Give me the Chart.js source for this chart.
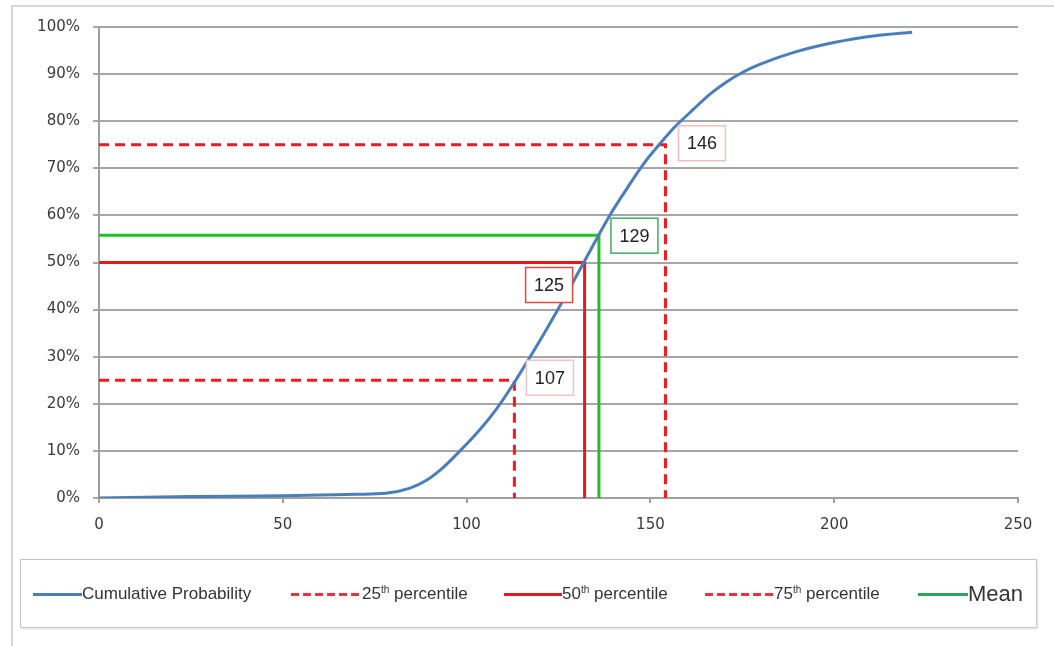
<!DOCTYPE html>
<html>
<head>
<meta charset="utf-8">
<script src="https://cdn.jsdelivr.net/npm/chart.js@4.4.1/dist/chart.umd.min.js"></script>
<style>
  html, body { margin: 0; padding: 0; background: #fff; overflow: hidden; }
  #wrap { position: relative; width: 1054px; height: 646px; }
  #frame { position: absolute; left: 11px; top: 5px; width: 1060px; height: 660px; border: 2px solid #d6d6d6; box-sizing: border-box; }
  #c { position: absolute; left: 0; top: 0; }
  #legend { position: absolute; left: 20px; top: 559px; width: 1017px; height: 69px; border: 1px solid #c6c6c6; box-sizing: border-box; box-shadow: 1px 1px 2px rgba(0,0,0,0.12); background: #fff; }
  .sw { position: absolute; top: 33px; height: 3px; }
  .tx { position: absolute; top: 24px; font-family: "Liberation Sans", Arial, sans-serif; font-size: 17px; color: #333; white-space: nowrap; line-height: 20px; }
  .tx sup { font-size: 10px; vertical-align: 6px; line-height: 0; }
  .dash { background: repeating-linear-gradient(90deg, #e8323c 0 8px, transparent 8px 12px); }
</style>
</head>
<body>
<div id="wrap">
  <div id="frame"></div>
  <canvas id="c" width="1054" height="646"></canvas>
  <div id="legend">
    <div class="sw" style="left:12px;width:49px;background:#4a7ebb;"></div>
    <div class="tx" style="left:61px;">Cumulative Probability</div>
    <div class="sw dash" style="left:270px;width:70px;"></div>
    <div class="tx" style="left:341px;">25<sup>th</sup> percentile</div>
    <div class="sw" style="left:483px;width:58px;background:#e51b1b;"></div>
    <div class="tx" style="left:541px;">50<sup>th</sup> percentile</div>
    <div class="sw dash" style="left:684px;width:69px;"></div>
    <div class="tx" style="left:753px;">75<sup>th</sup> percentile</div>
    <div class="sw" style="left:897px;width:50px;background:#2ca55a;"></div>
    <div class="tx" style="left:947px;top:22px;font-size:22px;line-height:24px;">Mean</div>
  </div>
</div>
<script>
// ---- data ----
const cumX = [0, 25, 50, 70, 78, 84.6, 89, 92.8, 98.2, 103.7, 108.2, 113.2, 117.3, 121.8, 126.4, 131.8, 135.5, 139.1, 143.6, 148.1, 152.7, 156.3, 161.8, 166.3, 171, 175.4, 179.9, 189, 199.9, 211.7, 221.2];
const cumY = [0, 0.3, 0.5, 0.8, 1.0, 2.1, 3.7, 5.9, 10.0, 14.6, 19.0, 24.8, 30.0, 35.9, 42.2, 49.9, 55.2, 60.2, 65.7, 70.9, 75.3, 78.5, 82.6, 85.8, 88.5, 90.5, 92.1, 94.6, 96.7, 98.2, 98.9];

const refNames  = ['25th percentile', '50th percentile', '75th percentile', 'Mean'];
const refX      = [113.0, 132.1, 154.1, 136.0];
const refY      = [25, 50, 75, 55.8];
const refLabels = ['107', '125', '146', '129'];

const xTickMin = 0, xTickMax = 250, xTickStep = 50;
const yTickMin = 0, yTickMax = 100, yTickStep = 10;

// ---- styles ----
const refStyles = [
  { color: '#ee1c1c', dash: [10, 6] },
  { color: '#e51b1b', dash: [] },
  { color: '#ee1c1c', dash: [10, 6] },
  { color: '#22c022', dash: [] }
];
const labelStyles = [
  { dx: 12,  dy: -20, border: '#f0c4c4' },   // 107
  { dx: -59, dy: 5,   border: '#e04848' },   // 125
  { dx: 13,  dy: -19, border: '#f0c0c0' },   // 146
  { dx: 12,  dy: -17, border: '#3cb060' }    // 129
];

const datasets = [{
  label: 'Cumulative Probability',
  data: cumX.map((x, i) => ({ x: x, y: cumY[i] })),
  borderColor: '#4a7ebb',
  borderWidth: 3,
  pointRadius: 0,
  cubicInterpolationMode: 'monotone',
  fill: false
}];
refNames.forEach((n, i) => {
  datasets.push({
    label: n,
    data: [{ x: 0, y: refY[i] }, { x: refX[i], y: refY[i] }, { x: refX[i], y: 0 }],
    borderColor: refStyles[i].color,
    borderDash: refStyles[i].dash,
    borderWidth: 3,
    pointRadius: 0,
    tension: 0,
    fill: false
  });
});

const labelPlugin = {
  id: 'refLabels',
  afterDatasetsDraw(chart) {
    const ctx = chart.ctx;
    const xs = chart.scales.x, ys = chart.scales.y;
    ctx.save();
    refLabels.forEach((t, i) => {
      const px = xs.getPixelForValue(refX[i]);
      const py = ys.getPixelForValue(refY[i]);
      const st = labelStyles[i];
      const w = 47, h = 35;
      const l = px + st.dx, tp = py + st.dy;
      ctx.fillStyle = '#ffffff';
      ctx.fillRect(l, tp, w, h);
      ctx.strokeStyle = st.border;
      ctx.lineWidth = 1.5;
      ctx.strokeRect(l, tp, w, h);
      ctx.fillStyle = '#222';
      ctx.font = '18px "Liberation Sans", Arial, sans-serif';
      ctx.textAlign = 'center';
      ctx.textBaseline = 'middle';
      ctx.fillText(t, l + w / 2, tp + h / 2 + 1);
    });
    ctx.restore();
  }
};

new Chart(document.getElementById('c'), {
  type: 'line',
  data: { datasets: datasets },
  options: {
    responsive: false,
    animation: false,
    devicePixelRatio: 1,
    layout: { padding: { left: 0, top: 27, right: 36, bottom: 86 } },
    plugins: { legend: { display: false }, tooltip: { enabled: false } },
    scales: {
      x: {
        type: 'linear',
        min: xTickMin, max: xTickMax,
        ticks: { stepSize: xTickStep, color: '#3a3a3a', font: { family: 'DejaVu Sans', size: 15 }, padding: 13, maxRotation: 0 },
        grid: { drawOnChartArea: false, drawTicks: true, tickLength: 5, color: '#a0a0a0', lineWidth: 2 },
        border: { display: true, color: '#a0a0a0', width: 2 },
        afterFit(s) { s.height = 62; }
      },
      y: {
        type: 'linear',
        min: yTickMin, max: yTickMax,
        ticks: { stepSize: yTickStep, color: '#3a3a3a', font: { family: 'DejaVu Sans', size: 15 }, padding: 13, callback: v => v + '%' },
        grid: { color: '#a6a6a6', lineWidth: 2, drawTicks: true, tickLength: 6 },
        border: { display: true, color: '#a0a0a0', width: 2 },
        afterFit(s) { s.width = 99; }
      }
    }
  },
  plugins: [labelPlugin]
});
</script>
</body>
</html>
